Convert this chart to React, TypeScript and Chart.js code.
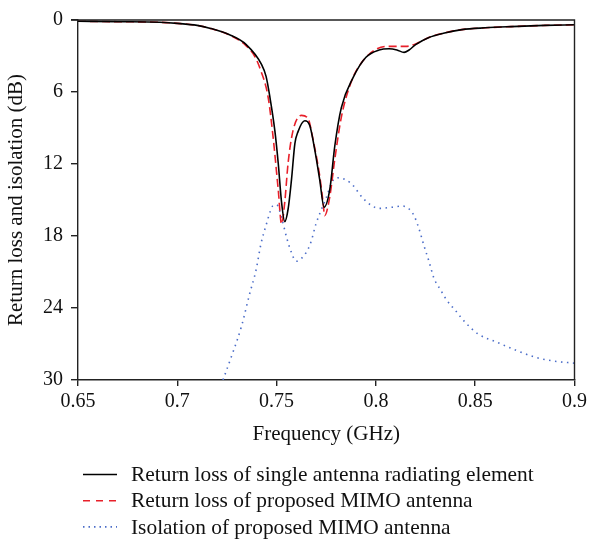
import React, { useEffect, useRef } from "react";
import { Chart, registerables } from "chart.js";

Chart.register(...registerables);

const xTickValues = [0.65, 0.7, 0.75, 0.8, 0.85, 0.9];
const xTickLabels = ["0.65", "0.7", "0.75", "0.8", "0.85", "0.9"];
const yTickValues = [0, 6, 12, 18, 24, 30];
const yTickLabels = ["0", "6", "12", "18", "24", "30"];

const seriesLabels = [
  "Return loss of single antenna radiating element",
  "Return loss of proposed MIMO antenna",
  "Isolation of proposed MIMO antenna",
];

const singleFreq = [0.65, 0.67, 0.6912, 0.7, 0.71, 0.7163, 0.7263, 0.7347, 0.7424, 0.7447, 0.7466, 0.7491, 0.7508, 0.7525, 0.7541, 0.7558, 0.7575, 0.7592, 0.7608, 0.7642, 0.7667, 0.7692, 0.7717, 0.7739, 0.7768, 0.7793, 0.7826, 0.7885, 0.795, 0.8016, 0.8066, 0.8106, 0.8142, 0.8167, 0.82, 0.8267, 0.834, 0.8433, 0.855, 0.868, 0.885, 0.9];
const singleLoss = [0.1, 0.14, 0.19, 0.28, 0.45, 0.68, 1.23, 2.05, 3.7, 4.7, 6.4, 9.2, 11.9, 15.2, 16.8, 15.75, 13.3, 10.3, 9.3, 8.4, 8.8, 10.8, 13.3, 15.6, 14.1, 10.5, 7.3, 4.8, 3.1, 2.5, 2.4, 2.5, 2.7, 2.5, 2.05, 1.45, 1.1, 0.8, 0.65, 0.55, 0.45, 0.4];

const mimoFreq = [0.65, 0.67, 0.6912, 0.7, 0.71, 0.7163, 0.7263, 0.7347, 0.7389, 0.742, 0.7457, 0.7482, 0.7508, 0.7525, 0.7541, 0.7558, 0.7583, 0.7625, 0.7658, 0.7684, 0.7717, 0.7734, 0.7742, 0.7768, 0.7793, 0.7826, 0.7877, 0.7935, 0.8, 0.805, 0.81, 0.815, 0.82, 0.8267, 0.834, 0.8433, 0.855, 0.868, 0.885, 0.9];
const mimoLoss = [0.1, 0.14, 0.19, 0.28, 0.45, 0.68, 1.25, 2.15, 3.0, 4.2, 6.4, 9.7, 14.1, 17.0, 15.2, 11.9, 9.2, 7.95, 8.2, 10.0, 13.0, 15.2, 16.3, 14.7, 11.6, 8.1, 5.1, 3.4, 2.45, 2.2, 2.2, 2.2, 2.0, 1.45, 1.1, 0.8, 0.65, 0.55, 0.45, 0.4];

const isoFreq = [0.723, 0.728, 0.7322, 0.7363, 0.7397, 0.7422, 0.7447, 0.7467, 0.748, 0.75, 0.753, 0.755, 0.7573, 0.7598, 0.7623, 0.7648, 0.7673, 0.7698, 0.7723, 0.7748, 0.7782, 0.7807, 0.7874, 0.7932, 0.7982, 0.8016, 0.8083, 0.8133, 0.8167, 0.8192, 0.8217, 0.8242, 0.8267, 0.8292, 0.8326, 0.8359, 0.84, 0.845, 0.8518, 0.8602, 0.8702, 0.8802, 0.8886, 0.9];
const isoValues = [30, 27.7, 25.6, 22.9, 20.8, 18.6, 17.1, 16.0, 15.5, 15.4, 16.8, 18.1, 19.3, 20.1, 19.9, 19.4, 18.5, 17.0, 15.9, 14.9, 13.4, 13.15, 13.6, 14.8, 15.5, 15.7, 15.6, 15.5, 15.75, 16.3, 17.4, 18.8, 20.1, 21.5, 22.5, 23.4, 24.2, 25.2, 26.2, 26.8, 27.5, 28.1, 28.4, 28.6];

const FONT = "'Liberation Serif', 'Times New Roman', serif";

const pts = (xs: number[], ys: number[]) => xs.map((x, i) => ({ x, y: ys[i] }));

const framePlugin = {
  id: "frame",
  afterDatasetsDraw(chart: any) {
    const { ctx, chartArea } = chart;
    ctx.save();
    ctx.strokeStyle = "#222";
    ctx.lineWidth = 1.4;
    ctx.beginPath();
    ctx.moveTo(chartArea.left - 7, chartArea.top);
    ctx.lineTo(chartArea.right, chartArea.top);
    ctx.lineTo(chartArea.right, chartArea.bottom);
    ctx.stroke();
    ctx.restore();
  },
};

const legendPlugin = {
  id: "customLegend",
  afterDraw(chart: any) {
    const { ctx } = chart;
    ctx.save();
    chart.data.datasets.forEach((ds: any, i: number) => {
      const y = 474.5 + i * 26.2;
      ctx.strokeStyle = ds.borderColor;
      ctx.lineWidth = ds.borderWidth;
      ctx.setLineDash(ds.legendDash || []);
      ctx.beginPath();
      ctx.moveTo(83, y);
      ctx.lineTo(117, y);
      ctx.stroke();
      ctx.setLineDash([]);
      ctx.fillStyle = "#111";
      ctx.font = `21.4px ${FONT}`;
      ctx.textBaseline = "middle";
      ctx.textAlign = "left";
      ctx.fillText(ds.label, 131, y + 1);
    });
    ctx.restore();
  },
};

export default function App() {
  const ref = useRef<HTMLCanvasElement | null>(null);

  useEffect(() => {
    document.body.style.margin = "0";
    const canvas = ref.current;
    if (!canvas) return;
    const chart = new Chart(canvas, {
      type: "line",
      data: {
        datasets: [
          {
            label: seriesLabels[0],
            data: pts(singleFreq, singleLoss),
            borderColor: "#000000",
            borderWidth: 1.6,
            pointRadius: 0,
            cubicInterpolationMode: "monotone",
            fill: false,
            legendDash: [],
          } as any,
          {
            label: seriesLabels[1],
            data: pts(mimoFreq, mimoLoss),
            borderColor: "#e8202a",
            borderWidth: 1.6,
            borderDash: [8, 4],
            pointRadius: 0,
            cubicInterpolationMode: "monotone",
            fill: false,
            legendDash: [7, 6],
          } as any,
          {
            label: seriesLabels[2],
            data: pts(isoFreq, isoValues),
            borderColor: "#4a6cc8",
            borderWidth: 1.6,
            borderDash: [1.5, 4.5],
            pointRadius: 0,
            cubicInterpolationMode: "monotone",
            fill: false,
            legendDash: [1.5, 4],
          } as any,
        ],
      },
      options: {
        responsive: false,
        animation: false,
        events: [],
        layout: { padding: { left: 0, right: 15, top: 15, bottom: 89 } },
        plugins: {
          legend: { display: false },
          tooltip: { enabled: false },
        },
        scales: {
          x: {
            type: "linear",
            min: 0.65,
            max: 0.9,
            afterBuildTicks: (scale: any) => {
              scale.ticks = xTickValues.map((v) => ({ value: v }));
            },
            afterFit: (scale: any) => {
              scale.height = 71;
            },
            grid: {
              drawOnChartArea: false,
              drawTicks: true,
              tickLength: 6,
              color: "#222",
              lineWidth: 1.4,
            },
            border: { display: true, color: "#222", width: 1.4 },
            ticks: {
              color: "#111",
              font: { family: FONT, size: 20 },
              padding: 4,
              maxRotation: 0,
              autoSkip: false,
              callback: (v: any) => {
                const i = xTickValues.findIndex((t) => Math.abs(t - Number(v)) < 1e-9);
                return i >= 0 ? xTickLabels[i] : "";
              },
            },
            title: {
              display: true,
              text: "Frequency (GHz)",
              color: "#111",
              font: { family: FONT, size: 21 },
              padding: { top: 4, bottom: 4 },
            },
          },
          y: {
            type: "linear",
            reverse: true,
            min: 0,
            max: 30,
            afterBuildTicks: (scale: any) => {
              scale.ticks = yTickValues.map((v) => ({ value: v }));
            },
            afterFit: (scale: any) => {
              scale.width = 78;
            },
            grid: {
              drawOnChartArea: false,
              drawTicks: true,
              tickLength: 7,
              color: "#222",
              lineWidth: 1.4,
            },
            border: { display: true, color: "#222", width: 1.4 },
            ticks: {
              color: "#111",
              font: { family: FONT, size: 20 },
              padding: 8,
              autoSkip: false,
              callback: (v: any) => {
                const i = yTickValues.indexOf(Number(v));
                return i >= 0 ? yTickLabels[i] : "";
              },
            },
            title: {
              display: true,
              text: "Return loss and isolation (dB)",
              color: "#111",
              font: { family: FONT, size: 21 },
              padding: { top: 4, bottom: 4 },
            },
          },
        },
      },
      plugins: [framePlugin, legendPlugin],
    } as any);
    return () => chart.destroy();
  }, []);

  return (
    <div style={{ width: 591, height: 540 }}>
      <canvas ref={ref} width={591} height={540} style={{ display: "block" }} />
    </div>
  );
}
